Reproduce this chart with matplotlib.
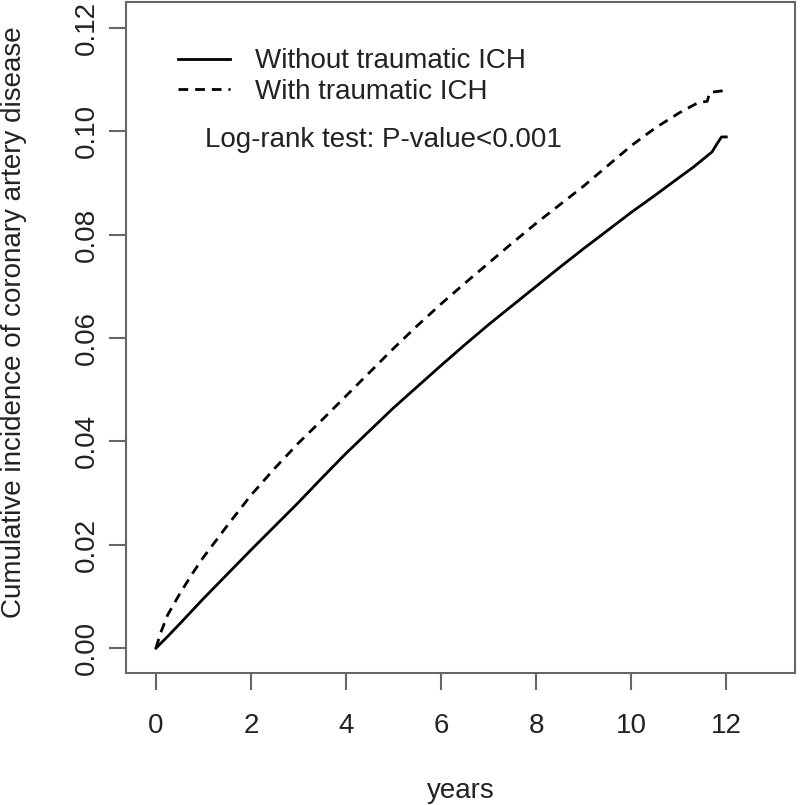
import numpy as np
import matplotlib.pyplot as plt

plt.rcParams['font.family'] = ['Liberation Sans', 'DejaVu Sans']

# cumulative incidence
t_without = [0, 0.25, 0.5, 1, 1.5, 2, 2.5, 3, 3.5, 4, 4.5, 5, 5.5, 6, 6.5, 7,
             7.5, 8, 8.5, 9, 9.5, 10, 10.5, 11, 11.3, 11.5, 11.7, 11.8, 11.9, 12]
ci_without = [0, 0.0023, 0.0047, 0.0096, 0.0143, 0.0190, 0.0236, 0.0282, 0.0330,
              0.0377, 0.0421, 0.0465, 0.0506, 0.0547, 0.0587, 0.0626, 0.0663,
              0.0700, 0.0737, 0.0773, 0.0808, 0.0843, 0.0876, 0.0910, 0.0930,
              0.0945, 0.0960, 0.0975, 0.0989, 0.0989]

t_with = [0, 0.05, 0.1, 0.25, 0.5, 0.75, 1, 1.5, 2, 2.5, 3, 3.5, 4, 4.5, 5, 5.5,
          6, 6.5, 7, 7.5, 8, 8.5, 9, 9.5, 10, 10.5, 11, 11.4, 11.6, 11.65, 11.9, 12]
ci_with = [0, 0.0015, 0.003, 0.0065, 0.0105, 0.0142, 0.0176, 0.0237, 0.0296,
           0.0348, 0.0397, 0.0442, 0.0488, 0.0534, 0.0580, 0.0624, 0.0666, 0.0706,
           0.0745, 0.0784, 0.0822, 0.0858, 0.0894, 0.0933, 0.0972, 0.1006, 0.1035,
           0.1055, 0.1058, 0.1075, 0.1078, 0.1078]

x_ticks = [0, 2, 4, 6, 8, 10, 12]
y_ticks = [0.00, 0.02, 0.04, 0.06, 0.08, 0.10, 0.12]

fig = plt.figure(figsize=(8, 8.05), dpi=100)
ax = fig.add_axes([0.1575, 0.164, 0.8365, 0.8335])

ax.plot(t_without, ci_without, color='black', lw=2.0, label='Without traumatic ICH')
ax.plot(t_with, ci_with, color='black', lw=2.0, ls=(0, (3.5, 2.5)),
        label='With traumatic ICH')

ax.set_xlim(-0.63, 13.45)
ax.set_ylim(-0.0048, 0.1250)
ax.set_xticks(x_ticks)
ax.set_yticks(y_ticks)
ax.set_xticklabels([str(v) for v in x_ticks])
ax.set_yticklabels(['%.2f' % v for v in y_ticks], rotation=90, va='center')

txt = '#222222'
edge = '#666666'
for s in ax.spines.values():
    s.set_color(edge)
    s.set_linewidth(1.5)
ax.tick_params(axis='both', direction='out', length=12, width=1.5, color=edge,
               labelsize=20, labelcolor=txt)
ax.tick_params(axis='x', pad=17)
ax.tick_params(axis='y', pad=7)

leg = ax.legend(loc='upper left', bbox_to_anchor=(0.078, 0.931), frameon=False,
                fontsize=20, handlelength=1.87, handletextpad=0.9,
                labelspacing=0.16, borderpad=0, borderaxespad=0)
for t in leg.get_texts():
    t.set_color(txt)

ax.text(0.118, 0.794, 'Log-rank test: P-value<0.001', transform=ax.transAxes,
        fontsize=20, color=txt, va='center')

fig.text(0.576, 0.018, 'years', ha='center', va='center', fontsize=20, color=txt)
fig.text(0.018, 0.6, 'Cumulative incidence of coronary artery disease',
         rotation=90, ha='center', va='center', fontsize=20, color=txt)

fig.savefig('out.png', dpi=100)
